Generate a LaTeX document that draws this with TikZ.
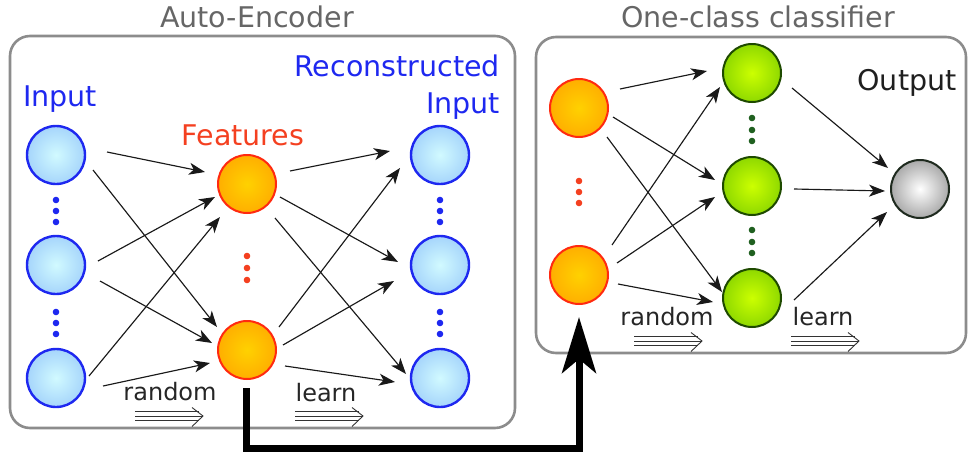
\documentclass[tikz,border=0pt]{standalone}
\usepackage{fontspec}
\setmainfont{DejaVu Sans}
\usetikzlibrary{arrows.meta,calc}
\pgfdeclareradialshading{blueball}{\pgfpoint{0bp}{0bp}}{rgb(0bp)=(0.82,0.98,1); rgb(50bp)=(0.48,0.69,0.97)}
\pgfdeclareradialshading{orangeball}{\pgfpoint{0bp}{0bp}}{rgb(0bp)=(1,0.82,0); rgb(50bp)=(1,0.55,0)}
\pgfdeclareradialshading{greenball}{\pgfpoint{0bp}{0bp}}{rgb(0bp)=(0.80,1,0); rgb(50bp)=(0.32,0.70,0)}
\pgfdeclareradialshading{grayball}{\pgfpoint{0bp}{0bp}}{rgb(0bp)=(1,1,1); rgb(50bp)=(0.33,0.33,0.33)}
\definecolor{nblue}{HTML}{1E28F0}
\definecolor{nred}{HTML}{FF2A10}
\definecolor{ngreen}{HTML}{1E4A00}
\definecolor{ngray}{HTML}{1E2A1E}
\definecolor{featred}{HTML}{F44020}
\definecolor{ttlgray}{HTML}{666666}
\definecolor{boxgray}{HTML}{8C8C8C}
\definecolor{dotgreen}{HTML}{206020}
\tikzset{
  ball/.style={circle, minimum size=58pt, inner sep=0pt, line width=2pt},
  bblue/.style={ball, draw=nblue, line width=2.4pt, shading=blueball},
  borange/.style={ball, draw=nred, shading=orangeball},
  bgreen/.style={ball, draw=ngreen, shading=greenball},
  bgray/.style={ball, draw=ngray, shading=grayball},
  conn/.style={draw=black!90, line width=1.15pt, -{Stealth[length=16pt,width=12pt,inset=4.5pt]}},
  frame/.style={draw=boxgray, line width=2.6pt, rounded corners=20pt},
  bigtxt/.style={font=\fontsize{28.5}{32}\selectfont, inner sep=0pt, anchor=base},
  smalltxt/.style={font=\fontsize{24}{28}\selectfont, inner sep=0pt, anchor=base, text=black!85},
  tri/.style={line width=0.9pt, draw=black!80},
  triarrow/.pic={
    \draw[tri] (0,-4.6) -- (64,-4.6) (0,0) -- (67,0) (0,4.6) -- (64,4.6);
    \draw[tri, line join=miter] (57,-8.5) -- (68,0) -- (57,10.5);
  }
}
\begin{document}
\begin{tikzpicture}[x=1pt,y=-1pt]
\useasboundingbox (0,0) rectangle (969,458);
% frames
\draw[frame] (10,36) rectangle (515,428);
\draw[frame] (536,37) rectangle (966,353);
% titles
\node[bigtxt, text=ttlgray] (ttl1) at (257,27) {Auto-Encoder};
\node[bigtxt, text=ttlgray] (ttl2) at (758,27) {One-class classifier};
% labels
\node[bigtxt, text=nblue] (lin) at (60,106) {Input};
\node[bigtxt, text=nblue, anchor=base east] (lrec) at (500,76) {Reconstructed};
\node[bigtxt, text=nblue, anchor=base east] (lrec2) at (500,113) {Input};
\node[bigtxt, text=featred] (lfeat) at (243,145) {Features};
\node[bigtxt, text=black!88] (lout) at (907,90) {Output};
% nodes
\node[bblue] (i1) at (56,155) {};
\node[bblue] (i2) at (56,265) {};
\node[bblue] (i3) at (56,378) {};
\node[borange] (f1) at (247,184) {};
\node[borange] (f2) at (247,350) {};
\node[bblue] (r1) at (440,155) {};
\node[bblue] (r2) at (440,265) {};
\node[bblue] (r3) at (440,378) {};
\node[borange] (o1) at (579,108) {};
\node[borange] (o2) at (579,275) {};
\node[bgreen] (g1) at (752,73) {};
\node[bgreen] (g2) at (752,186) {};
\node[bgreen] (g3) at (752,298) {};
\node[bgray] (out) at (920,189) {};
% dots
\foreach \y in {200,211,222,312,323,334} {
  \fill[nblue] (56,\y) circle (3.3pt);
  \fill[nblue] (440,\y) circle (3.3pt);
}
\foreach \y in {256,268,280} \fill[featred] (247,\y) circle (3.3pt);
\foreach \y in {181,192,203} \fill[featred] (579,\y) circle (3.3pt);
\foreach \y in {118,130,141,230,242,253} \fill[dotgreen] (752,\y) circle (3.3pt);
% encoder connectors
\draw[conn] ($(i1)+(51,-3)$) -- ($(f1)+(-42,-12)$);
\draw[conn] ($(i1)+(37,15)$) -- ($(f2)+(-30,-23)$);
\draw[conn] ($(i2)+(42,-4)$) -- ($(f1)+(-32,13)$);
\draw[conn] ($(i2)+(44,16)$) -- ($(f2)+(-35,-7)$);
\draw[conn] ($(i3)+(33,-2)$) -- ($(f1)+(-27,33)$);
\draw[conn] ($(i3)+(47,8)$) -- ($(f2)+(-37,13)$);
% decoder connectors
\draw[conn] ($(f1)+(43,-13)$) -- ($(r1)+(-50,-4)$);
\draw[conn] ($(f1)+(33,13)$) -- ($(r2)+(-42,-3)$);
\draw[conn] ($(f1)+(28,34)$) -- ($(r3)+(-34,-4)$);
\draw[conn] ($(f2)+(32,-23)$) -- ($(r1)+(-40,13)$);
\draw[conn] ($(f2)+(36,-5)$) -- ($(r2)+(-46,16)$);
\draw[conn] ($(f2)+(38,16)$) -- ($(r3)+(-45,4)$);
% classifier connectors
\draw[conn] ($(o1)+(41,-19)$) -- ($(g1)+(-45,-2)$);
\draw[conn] ($(o1)+(34,9)$) -- ($(g2)+(-37,-6)$);
\draw[conn] ($(o1)+(28,29)$) -- ($(g3)+(-30,-6)$);
\draw[conn] ($(o2)+(33,-30)$) -- ($(g1)+(-32,14)$);
\draw[conn] ($(o2)+(38,-12)$) -- ($(g2)+(-37,11)$);
\draw[conn] ($(o2)+(39,9)$) -- ($(g3)+(-39,4)$);
\draw[conn] ($(g1)+(40,15)$) -- ($(out)+(-32,-21)$);
\draw[conn] ($(g2)+(42,3)$) -- ($(out)+(-35,2)$);
\draw[conn] ($(g3)+(42,2)$) -- ($(out)+(-33,23)$);
% random / learn
\node[smalltxt] (rnd1) at (170,400) {random};
\node[smalltxt] (lrn1) at (326,401) {learn};
\node[smalltxt] (rnd2) at (667,325) {random};
\node[smalltxt] (lrn2) at (823,325) {learn};
\pic at (135,416) {triarrow};
\pic at (295,416) {triarrow};
\pic at (634,341) {triarrow};
\pic at (791,341) {triarrow};
% thick transfer arrow
\coordinate (bend) at (579,448);
\draw[line width=7pt, line join=miter, -{Stealth[length=56pt,width=34pt,inset=14pt]}]
  ($(f2)+(-1,38)$) |- (bend) -- ($(o2)+(0,42)$);
\end{tikzpicture}
\end{document}
